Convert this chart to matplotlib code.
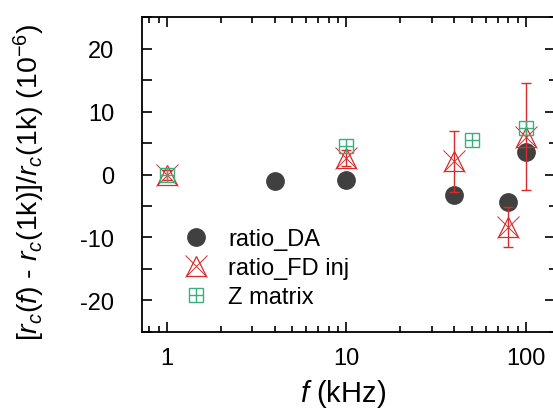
import matplotlib
matplotlib.use("Agg")
import matplotlib.pyplot as plt
from matplotlib.ticker import MultipleLocator, FixedLocator, NullFormatter
from matplotlib.legend_handler import HandlerTuple
from matplotlib.lines import Line2D

plt.rcParams['font.family'] = ['Liberation Sans', 'DejaVu Sans']
plt.rcParams['mathtext.fontset'] = 'custom'
plt.rcParams['mathtext.rm'] = 'Liberation Sans'
plt.rcParams['mathtext.it'] = 'Liberation Sans:italic'
plt.rcParams['axes.unicode_minus'] = False

# data (kHz, 1e-6)
da_f = [4, 10, 40, 80, 100]
da_y = [-1.0, -0.9, -3.2, -4.4, 3.6]

fd_f = [1, 10, 40, 80, 100]
fd_y = [0.0, 2.6, 2.1, -8.3, 6.0]
fd_err = [0.8, 1.3, 4.8, 3.2, 8.5]

zm_f = [1, 10, 50, 100]
zm_y = [0.0, 4.6, 5.5, 7.4]

c_da = '#404040'
c_fd = '#d92b2b'
c_zm = '#3aae7c'

fig = plt.figure(figsize=(5.53, 4.14), dpi=100)
ax = fig.add_axes([0.257, 0.196, 0.747, 0.760])

# twin axis only to get short minor ticks on the right side
ax2 = ax.twinx()

ax.plot(da_f, da_y, 'o', color=c_da, ms=12.5, ls='none', zorder=3)
ax.errorbar(fd_f, fd_y, yerr=fd_err, fmt='none', ecolor=c_fd, elinewidth=1,
            capsize=3.8, capthick=1, zorder=4)
ax.plot(fd_f, fd_y, '^', mfc='none', mec=c_fd, ms=14, mew=0.9, ls='none', zorder=4)
ax.plot(fd_f, fd_y, 'x', color=c_fd, ms=16, mew=0.7, ls='none', zorder=4)
ax.plot(zm_f, zm_y, 's', mfc='none', mec=c_zm, ms=10.5, mew=1, ls='none', zorder=5)
ax.plot(zm_f, zm_y, '+', color=c_zm, ms=10.5, mew=1, ls='none', zorder=5)

ax.set_xscale('log')
ax.set_xlim(0.728, 146)
ax.set_ylim(-25, 25)
ax.xaxis.set_major_locator(FixedLocator([1, 10, 100]))
ax.set_xticklabels(['1', '10', '100'])
ax.xaxis.set_minor_formatter(NullFormatter())
ax.yaxis.set_major_locator(MultipleLocator(10))
ax.yaxis.set_minor_locator(MultipleLocator(5))

ax.tick_params(which='both', direction='in', top=True, labelsize=17, width=1.2)
ax.tick_params(which='major', length=7)
ax.tick_params(which='minor', length=4)
ax.tick_params(axis='y', which='major', right=True, left=True, pad=20)
ax.tick_params(axis='y', which='minor', length=7, left=True, right=False)
ax.tick_params(axis='x', which='major', pad=11)
for s in ax.spines.values():
    s.set_linewidth(1.3)

ax2.set_ylim(ax.get_ylim())
ax2.yaxis.set_major_locator(MultipleLocator(10))
ax2.yaxis.set_minor_locator(MultipleLocator(5))
ax2.tick_params(which='both', direction='in', labelright=False, width=1.2)
ax2.tick_params(which='major', length=0)
ax2.tick_params(which='minor', length=4)
for s in ax2.spines.values():
    s.set_visible(False)

ax.set_xlabel('$f$ (kHz)', fontsize=21)
ax.xaxis.set_label_coords(0.487, -0.145)
ax.set_ylabel('[$r_c$($f$) - $r_c$(1k)]/$r_c$(1k) (10$^{-6}$)', fontsize=20.5)
ax.yaxis.set_label_coords(-0.23, 0.48)

h_da = Line2D([], [], marker='o', color=c_da, ms=12.5, ls='none')
h_fd1 = Line2D([], [], marker='^', mfc='none', mec=c_fd, ms=14, mew=0.9, ls='none')
h_fd2 = Line2D([], [], marker='x', color=c_fd, ms=16, mew=0.7, ls='none')
h_zm1 = Line2D([], [], marker='s', mfc='none', mec=c_zm, ms=10.5, mew=1, ls='none')
h_zm2 = Line2D([], [], marker='+', color=c_zm, ms=10.5, mew=1, ls='none')
ax.legend([h_da, (h_fd1, h_fd2), (h_zm1, h_zm2)], ['ratio_DA', 'ratio_FD inj', 'Z matrix'],
          handler_map={tuple: HandlerTuple(ndivide=1)},
          loc='lower left', bbox_to_anchor=(0.065, 0.045), frameon=False, fontsize=17,
          handlelength=1.5, handletextpad=0.6, labelspacing=0.3, borderaxespad=0)

fig.savefig('out.png', dpi=100)
